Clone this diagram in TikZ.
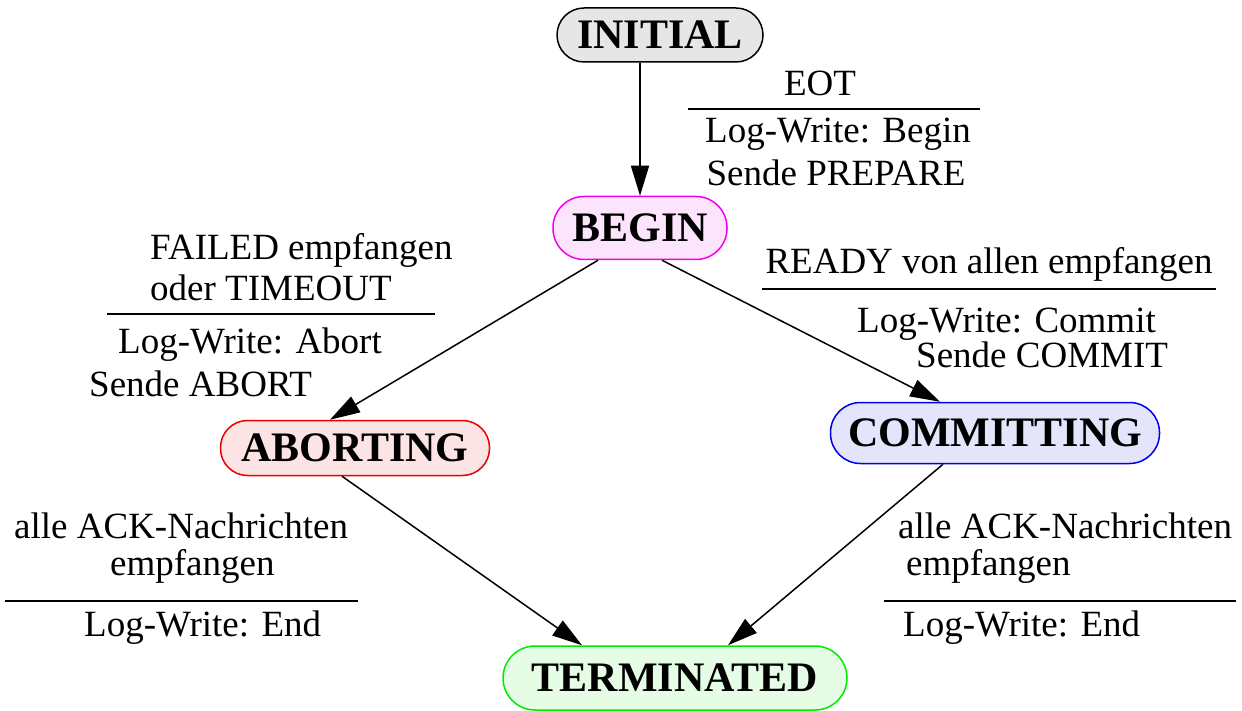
\documentclass[tikz,border=0pt]{standalone}
\usepackage{fontspec}
\setmainfont{Liberation Serif}
\usetikzlibrary{arrows.meta,calc}
\definecolor{gfill}{RGB}{230,230,230}
\definecolor{bfill}{RGB}{253,228,253}
\definecolor{afill}{RGB}{253,228,228}
\definecolor{cfill}{RGB}{228,228,251}
\definecolor{tfill}{RGB}{228,253,228}
\definecolor{mag}{RGB}{240,0,240}
\definecolor{tred}{RGB}{235,0,0}
\definecolor{tblue}{RGB}{0,0,235}
\definecolor{tgreen}{RGB}{0,235,0}
\tikzset{
  state/.style={draw, line width=1.5pt, inner sep=0pt, font=\fontsize{42}{48}\selectfont\bfseries},
  lbl/.style={anchor=base, inner sep=0pt, font=\fontsize{37}{42}\selectfont},
  sep/.style={line width=1.3pt},
  arr/.style={line width=1.5pt, -{Triangle[length=30pt,width=18pt]}}
}
\begin{document}
\begin{tikzpicture}[x=1pt,y=-1pt]
\useasboundingbox (0,0) rectangle (1242,711);
% states
\node[state, fill=gfill, minimum width=206pt, minimum height=54pt, rounded corners=27pt] (initial) at (660,35) {INITIAL};
\node[state, draw=mag, fill=bfill, minimum width=174pt, minimum height=63pt, rounded corners=31pt] (begin) at (640,228) {BEGIN};
\node[state, draw=tred, fill=afill, minimum width=269pt, minimum height=55pt, rounded corners=27pt] (aborting) at (355,448) {ABORTING};
\node[state, draw=tblue, fill=cfill, minimum width=329pt, minimum height=61pt, rounded corners=30pt] (committing) at (995,433) {COMMITTING};
\node[state, draw=tgreen, fill=tfill, minimum width=344pt, minimum height=64pt, rounded corners=32pt] (terminated) at (675,678) {TERMINATED};
% connectors
\draw[arr] ([xshift=-20pt]initial.south) -- (begin.north);
\draw[arr] ([xshift=-42pt]begin.south) -- ([xshift=-25pt]aborting.north);
\draw[arr] ([xshift=22pt]begin.south) -- ([xshift=-55pt]committing.north);
\draw[arr] ([xshift=-13pt]aborting.south) -- ([xshift=-93pt]terminated.north);
\draw[arr] ([xshift=-52pt]committing.south) -- ([xshift=53pt]terminated.north);
% EOT label
\node[lbl] (eot) at (820,96) {EOT};
\draw[sep] (688,109) -- (980,109);
\node[lbl] (lwb) at (838,143) {Log-Write: Begin};
\node[lbl] (sp) at (836,186) {Sende PREPARE};
% abort label
\node[lbl, anchor=base west] (fe) at (150,260) {FAILED empfangen};
\node[lbl, anchor=base west] (ot) at (150,301) {oder TIMEOUT};
\draw[sep] (107,314) -- (435,314);
\node[lbl, anchor=base west] (lwa) at (118,353) {Log-Write: Abort};
\node[lbl, anchor=base west] (sa) at (89,396) {Sende ABORT};
% commit label
\node[lbl] (ready) at (989,274) {READY von allen empfangen};
\draw[sep] (762,289) -- (1216,289);
\node[lbl, anchor=base west] (lwc) at (857,332) {Log-Write: Commit};
\node[lbl, anchor=base west] (sc) at (916,367) {Sende COMMIT};
% left bottom label
\node[lbl, anchor=base west] (ack1) at (14,538) {alle ACK-Nachrichten};
\node[lbl, anchor=base west] (emp1) at (110,575) {empfangen};
\draw[sep] (5,601) -- (358,601);
\node[lbl, anchor=base west] (lwe1) at (84,636) {Log-Write: End};
% right bottom label
\node[lbl, anchor=base west] (ack2) at (898,538) {alle ACK-Nachrichten};
\node[lbl, anchor=base west] (emp2) at (906,575) {empfangen};
\draw[sep] (884,601) -- (1236,601);
\node[lbl, anchor=base west] (lwe2) at (903,636) {Log-Write: End};
\end{tikzpicture}
\end{document}
